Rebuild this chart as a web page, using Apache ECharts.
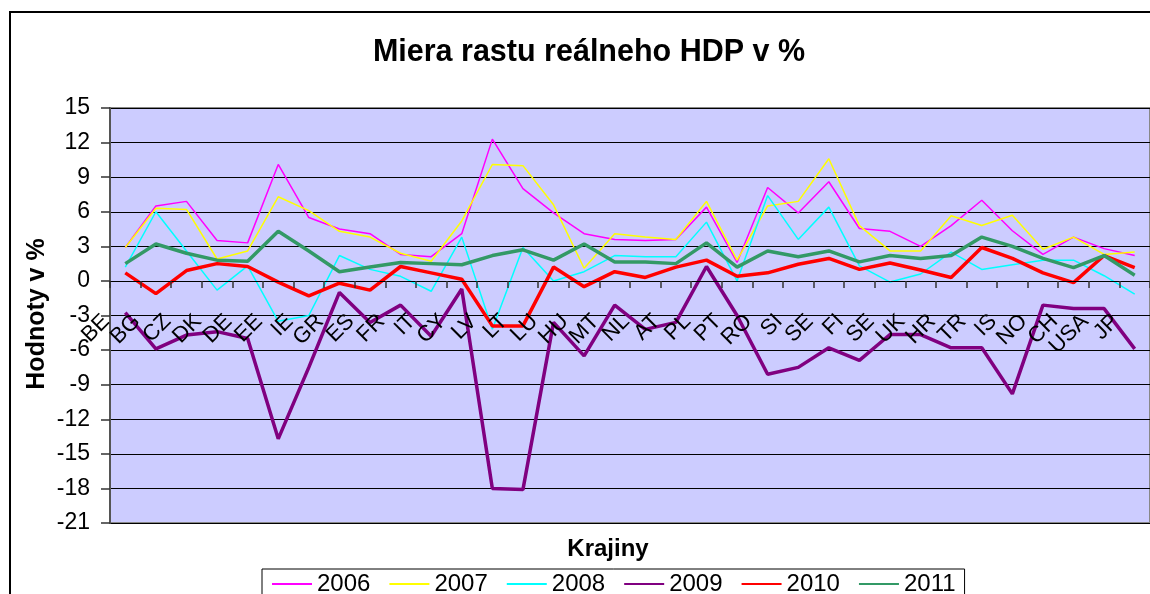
<!DOCTYPE html>
<html>
<head>
<meta charset="utf-8">
<script src="https://cdn.jsdelivr.net/npm/echarts@6/dist/echarts.min.js"></script>
<style>html,body{margin:0;padding:0;background:#fff;}#c{width:1150px;height:594px;}</style>
</head>
<body>
<div id="c"></div>
<script>
const categories = ['BE','BG','CZ','DK','DE','EE','IE','GR','ES','FR','IT','CY','LV','LT','LU','HU','MT','NL','AT','PL','PT','RO','SI','SE','FI','SE','UK','HR','TR','IS','NO','CH','USA','JP'];
const y2006 = [2.9, 6.5, 6.9, 3.5, 3.3, 10.1, 5.5, 4.5, 4.1, 2.3, 2.1, 4.1, 12.3, 8.0, 5.9, 4.1, 3.6, 3.5, 3.6, 6.4, 1.6, 8.1, 5.9, 8.6, 4.55, 4.3, 3.0, 4.8, 7.0, 4.35, 2.3, 3.8, 2.8, 2.2];
const y2007 = [2.9, 6.3, 6.2, 1.9, 2.6, 7.3, 6.1, 4.3, 3.8, 2.4, 1.7, 5.2, 10.1, 10.0, 6.6, 1.1, 4.1, 3.8, 3.6, 6.9, 1.8, 6.5, 6.9, 10.6, 4.8, 2.6, 2.6, 5.65, 4.8, 5.7, 2.75, 3.8, 2.3, 2.5];
const y2008 = [1.2, 6.0, 2.6, -0.8, 1.3, -3.5, -3.0, 2.2, 1.0, 0.4, -0.9, 3.8, -4.2, 2.9, 0.0, 0.8, 2.2, 2.1, 2.1, 5.1, 0.0, 7.4, 3.6, 6.4, 1.3, -0.1, 0.6, 2.5, 1.0, 1.4, 1.8, 1.8, 0.45, -1.15];
const y2009 = [-2.75, -5.9, -4.7, -4.4, -5.0, -13.7, -7.5, -1.0, -3.6, -2.1, -4.8, -0.7, -18.0, -18.1, -3.6, -6.5, -2.1, -4.2, -3.6, 1.25, -3.0, -8.1, -7.5, -5.8, -6.9, -4.65, -4.65, -5.8, -5.8, -9.8, -2.1, -2.4, -2.4, -5.9];
const y2010 = [0.7, -1.1, 0.9, 1.5, 1.25, -0.1, -1.3, -0.2, -0.8, 1.25, 0.7, 0.15, -3.9, -3.9, 1.2, -0.5, 0.8, 0.3, 1.2, 1.8, 0.4, 0.7, 1.45, 1.95, 1.0, 1.55, 0.95, 0.3, 2.9, 1.95, 0.7, -0.15, 2.2, 1.15];
const y2011 = [1.5, 3.2, 2.4, 1.8, 1.7, 4.3, 2.6, 0.8, 1.2, 1.6, 1.5, 1.4, 2.2, 2.7, 1.8, 3.2, 1.65, 1.65, 1.5, 3.3, 1.2, 2.6, 2.1, 2.6, 1.65, 2.2, 1.95, 2.2, 3.8, 3.0, 1.95, 1.15, 2.2, 0.5];
const seriesNames = ['2006','2007','2008','2009','2010','2011'];
const yTicks = {min: -21, max: 15, step: 3};

const FONT = "'Liberation Sans', Arial, sans-serif";
const W = 1150, H = 594;
const G = {left: 110, top: 108, right: -12, bottom: 71};
const plotH = H - G.top - G.bottom;
const zeroY = G.top + (yTicks.max - 0) / (yTicks.max - yTicks.min) * plotH;
const xOffset = -((H - G.bottom) - zeroY);

const chart = echarts.init(document.getElementById('c'), null, {renderer: 'canvas'});

const styles = [
  {color: '#FF00FF', width: 1.5},
  {color: '#FFFF00', width: 1.5},
  {color: '#00FFFF', width: 1.5},
  {color: '#800080', width: 3.5},
  {color: '#FF0000', width: 3.5},
  {color: '#339966', width: 3.5}
];
const values = [y2006, y2007, y2008, y2009, y2010, y2011];

chart.setOption({
  animation: false,
  backgroundColor: '#ffffff',
  title: {
    text: 'Miera rastu reálneho HDP v %',
    left: 584, top: 32, textAlign: 'center',
    textStyle: {fontFamily: FONT, fontSize: 30.5, fontWeight: 'bold', color: '#000'}
  },
  graphic: [
    {type: 'rect', z: -10, silent: true, shape: {x: 10, y: 12, width: 1300, height: 800},
     style: {fill: 'none', stroke: '#000', lineWidth: 2}},
    {type: 'text', x: 608, y: 549, silent: true,
     style: {text: 'Krajiny', fontFamily: FONT, fontSize: 24, fontWeight: 'bold', fill: '#000', align: 'center', verticalAlign: 'middle'}},
    {type: 'text', x: 37, y: 314, rotation: Math.PI / 2, silent: true,
     style: {text: 'Hodnoty v %', fontFamily: FONT, fontSize: 25, fontWeight: 'bold', fill: '#000', align: 'center', verticalAlign: 'middle'}}
  ],
  legend: {
    data: seriesNames,
    left: 262, top: 569,
    orient: 'horizontal',
    itemWidth: 40, itemHeight: 12, itemGap: 18,
    padding: [3, 9, 20, 9],
    borderColor: '#000', borderWidth: 1,
    itemStyle: {color: 'transparent', borderWidth: 0, opacity: 0},
    textStyle: {fontFamily: FONT, fontSize: 24, color: '#000'}
  },
  grid: {
    left: G.left, top: G.top, right: G.right, bottom: G.bottom,
    show: true, backgroundColor: '#CCCCFF', borderColor: '#888', borderWidth: 2
  },
  xAxis: {
    type: 'category',
    data: categories,
    boundaryGap: true,
    position: 'bottom',
    offset: xOffset,
    z: 10,
    axisLine: {onZero: false, lineStyle: {color: '#000', width: 1}},
    axisTick: {show: true, length: 7, lineStyle: {color: '#333', width: 1.5}},
    axisLabel: {interval: 0, rotate: 45, margin: 18, padding: [0, 27, 0, 0],
      fontFamily: FONT, fontSize: 22, color: '#000'},
    splitLine: {show: false}
  },
  yAxis: {
    type: 'value',
    min: yTicks.min, max: yTicks.max, interval: yTicks.step,
    axisLine: {show: true, onZero: false, lineStyle: {color: '#555', width: 2}},
    axisTick: {show: true, length: 9, lineStyle: {color: '#333', width: 1.5}},
    axisLabel: {margin: 20, fontFamily: FONT, fontSize: 23, color: '#000'},
    splitLine: {show: true, lineStyle: {color: '#000', width: 1}}
  },
  series: seriesNames.map((n, i) => ({
    name: n, type: 'line', data: values[i],
    symbol: 'none', showSymbol: false,
    lineStyle: {color: styles[i].color, width: styles[i].width},
    itemStyle: {color: styles[i].color},
    z: 2 + i
  }))
});
</script>
</body>
</html>
